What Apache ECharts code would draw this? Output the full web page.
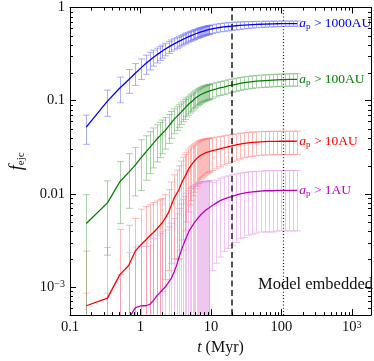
<!DOCTYPE html>
<html>
<head>
<meta charset="utf-8">
<script src="https://cdn.jsdelivr.net/npm/echarts@6/dist/echarts.min.js"></script>
<style>html,body{margin:0;padding:0;background:#fff}#c{width:374px;height:361px}</style>
</head>
<body>
<div id="c"></div>
<script>
// time samples (Myr)
const T = [0.17,0.34,0.51,0.68,0.85,1.02,1.19,1.36,1.53,1.70,1.87,2.04,
  2.25,2.5,2.75,3.0,3.25,3.5,3.75,4.0,4.25,4.5,4.75,5.0,5.25,5.5,5.75,6.0,6.25,6.5,6.75,7.0,7.25,7.5,7.75,8.0,8.25,8.5,8.75,9.0,9.25,9.5,
  10.2,11.7,13.3,15.2,17.4,19.9,22.7,26.0,29.7,33.9,38.8,44.3,50.6,57.9,66.1,75.6,86.4,98.7,112.8,129,147,168];

// a_p > 1000 AU
const blueMean = [0.052,0.099,0.137,0.168,0.198,0.225,0.25,0.272,0.292,0.31,0.326,0.341,
  0.358,0.376,0.392,0.407,0.42,0.433,0.444,0.455,0.465,0.474,0.483,0.491,0.499,0.506,0.513,0.52,0.526,0.532,0.537,0.542,0.547,0.552,0.556,0.56,0.564,0.568,0.571,0.575,0.578,0.581,
  0.588,0.6,0.61,0.618,0.625,0.631,0.637,0.642,0.647,0.651,0.655,0.658,0.661,0.663,0.665,0.667,0.669,0.67,0.671,0.672,0.672,0.673];
const blueErr = [0.018,0.031,0.042,0.048,0.052,0.056,0.058,0.058,0.057,0.056,0.055,0.055,
  0.055,0.055,0.056,0.056,0.056,0.057,0.057,0.057,0.058,0.058,0.058,0.059,0.059,0.059,0.06,0.06,0.06,0.06,0.061,0.061,0.061,0.061,0.061,0.062,0.062,0.062,0.062,0.062,0.062,0.062,
  0.062,0.063,0.063,0.063,0.063,0.063,0.061,0.059,0.057,0.055,0.053,0.051,0.05,0.049,0.048,0.047,0.046,0.045,0.045,0.044,0.044,0.044];

// a_p > 100 AU
const greenMean = [0.0048,0.0080,0.0135,0.0170,0.0205,0.0245,0.0280,0.0315,0.0350,0.0385,0.0415,0.0445,
  0.048,0.053,0.058,0.063,0.067,0.071,0.075,0.079,0.083,0.087,0.090,0.094,0.097,0.100,0.103,0.106,0.109,0.111,0.113,0.115,0.117,0.118,0.120,0.121,0.122,0.123,0.124,0.125,0.126,0.127,
  0.129,0.133,0.137,0.140,0.144,0.147,0.150,0.153,0.156,0.158,0.160,0.162,0.163,0.164,0.165,0.166,0.167,0.168,0.168,0.169,0.169,0.169];
const greenErr = [0.0050,0.0058,0.0087,0.0100,0.0110,0.0136,0.0140,0.0150,0.0160,0.0165,0.0170,0.0175,
  0.0178,0.0182,0.0185,0.0188,0.019,0.0193,0.0195,0.0197,0.02,0.02,0.0202,0.0205,0.0207,0.021,0.0212,0.0214,0.0216,0.0218,0.022,0.0222,0.0224,0.0225,0.0226,0.0227,0.0228,0.0229,0.023,0.023,0.0231,0.0231,
  0.0232,0.0233,0.0234,0.0235,0.0237,0.0239,0.024,0.0242,0.0244,0.0245,0.0247,0.0248,0.0249,0.025,0.0251,0.0252,0.0253,0.0254,0.0255,0.0255,0.0256,0.0256];

// a_p > 10 AU
const redMean = [6.3e-4,7.6e-4,1.36e-3,1.7e-3,2.45e-3,2.85e-3,3.2e-3,3.55e-3,3.85e-3,4.2e-3,4.55e-3,4.9e-3,
  5.5e-3,6.3e-3,7.6e-3,9.0e-3,0.0100,0.0110,0.0125,0.0140,0.0152,0.0165,0.0180,0.0193,0.0203,0.0213,0.0222,0.0231,0.0239,0.0246,0.0252,0.0257,0.0261,0.0265,0.0268,0.0271,0.0274,0.0277,0.0279,0.0281,0.0283,0.0285,
  0.0289,0.0296,0.0304,0.0312,0.0320,0.0328,0.0335,0.0342,0.0348,0.0353,0.0357,0.0360,0.0362,0.0364,0.0365,0.0366,0.0366,0.0367,0.0367,0.0367,0.0367,0.0368];
const redErr = [1.8e-3,1.9e-3,2.8e-3,2.9e-3,3.0e-3,4.0e-3,4.1e-3,4.1e-3,4.2e-3,4.2e-3,4.1e-3,4.0e-3,
  4.3e-3,4.8e-3,5.8e-3,7.0e-3,8.0e-3,9.0e-3,0.0100,0.0108,0.0112,0.0115,0.0116,0.0117,0.0118,0.0118,0.0118,0.0118,0.0118,0.0117,0.0117,0.0116,0.0116,0.0115,0.0115,0.0114,0.0114,0.0113,0.0113,0.0112,0.0112,0.0111,
  0.0111,0.0110,0.0109,0.0108,0.0107,0.0106,0.0105,0.0105,0.0104,0.0104,0.0104,0.0103,0.0103,0.0103,0.0103,0.0103,0.0103,0.0103,0.0103,0.0103,0.0103,0.0103];

// a_p > 1 AU
const magMean = [1.0e-4,1.2e-4,2.6e-4,4.6e-4,6.0e-4,6.3e-4,6.3e-4,6.5e-4,7.2e-4,8.0e-4,8.6e-4,9.3e-4,
  1.0e-3,1.12e-3,1.25e-3,1.45e-3,1.7e-3,2.05e-3,2.4e-3,2.75e-3,3.1e-3,3.45e-3,3.8e-3,4.1e-3,4.35e-3,4.6e-3,4.85e-3,5.05e-3,5.25e-3,5.45e-3,5.65e-3,5.85e-3,6.0e-3,6.15e-3,6.3e-3,6.45e-3,6.6e-3,6.7e-3,6.8e-3,6.9e-3,7.0e-3,7.1e-3,
  7.4e-3,7.9e-3,8.4e-3,8.8e-3,9.1e-3,9.4e-3,9.7e-3,0.0100,0.0102,0.0104,0.0105,0.0106,0.0107,0.0108,0.0108,0.0108,0.0109,0.0109,0.0109,0.0109,0.0109,0.0109];
const magErr = [7.6e-4,7.4e-4,1.1e-3,1.9e-3,2.1e-3,2.1e-3,2.1e-3,2.1e-3,2.6e-3,2.8e-3,2.9e-3,3.0e-3,
  3.1e-3,3.3e-3,3.6e-3,4.0e-3,4.4e-3,4.9e-3,5.4e-3,5.9e-3,6.3e-3,6.7e-3,7.0e-3,7.3e-3,7.4e-3,7.4e-3,7.5e-3,7.5e-3,7.5e-3,7.5e-3,7.5e-3,7.4e-3,7.4e-3,7.3e-3,7.2e-3,7.1e-3,7.0e-3,7.0e-3,6.9e-3,6.8e-3,6.8e-3,6.7e-3,
  5.9e-3,6.1e-3,6.3e-3,6.4e-3,6.5e-3,6.6e-3,6.7e-3,6.7e-3,6.8e-3,6.8e-3,6.8e-3,6.8e-3,6.8e-3,6.9e-3,6.9e-3,6.9e-3,6.9e-3,6.9e-3,6.9e-3,6.9e-3,6.9e-3,6.9e-3];

// ticks
const xMajor = [0.1, 1, 10, 100, 1000];
const xTickText = ['0.1', '1', '10', '100', '10{sup|3}'];
const yMajor = [0.001, 0.01, 0.1, 1];
const yTickText = ['10{sup|\u22123}', '0.01', '0.1', '1'];
const vLines = [20, 108];
const seriesLabels = ['1000AU', '100AU', '10AU', '1AU'];

const X_MIN = 0.1, X_MAX = 1870, Y_MIN = 5e-4, Y_MAX = 1;
const FONT = 'Liberation Serif';

const xMinor = [], yMinor = [];
for (let k = -1; k <= 3; k++) for (let m = 2; m <= 9; m++) { const v = m * Math.pow(10, k); if (v < X_MAX) xMinor.push(v); }
for (let k = -4; k <= -1; k++) for (let m = 2; m <= 9; m++) { const v = m * Math.pow(10, k); if (v > Y_MIN && v < Y_MAX) yMinor.push(v); }

function fmt(list, texts) {
  return function (v) {
    for (let i = 0; i < list.length; i++) if (Math.abs(Math.log10(v / list[i])) < 1e-6) return texts[i];
    return '';
  };
}

const richTick = {
  sup: { fontSize: 10, fontFamily: FONT, lineHeight: 9, verticalAlign: 'top', color: '#111' }
};

function errSeries(mean, err, color) {
  return {
    type: 'custom', xAxisIndex: 0, yAxisIndex: 0, clip: true, silent: true, z: 2,
    encode: { x: 0, y: [1, 2] },
    data: T.map((t, i) => [t, mean[i] - err[i], mean[i] + err[i]]),
    renderItem(params, api) {
      const cs = params.coordSys;
      const x = api.value(0), lo = api.value(1), hi = api.value(2);
      const pHi = api.coord([x, hi]);
      const xp = Math.round(pHi[0]) + 0.5;
      const yLo = lo > 0 ? api.coord([x, lo])[1] : cs.y + cs.height + 30;
      const w = 3.5;
      const st = { stroke: color, lineWidth: 1 };
      const ch = [
        { type: 'line', shape: { x1: xp, y1: pHi[1], x2: xp, y2: yLo }, style: st },
        { type: 'line', shape: { x1: xp - w, y1: pHi[1], x2: xp + w, y2: pHi[1] }, style: st }
      ];
      if (lo > 0) ch.push({ type: 'line', shape: { x1: xp - w, y1: yLo, x2: xp + w, y2: yLo }, style: st });
      return { type: 'group', children: ch };
    }
  };
}

function lineSeries(mean, color, label, extra) {
  const s = {
    type: 'line', xAxisIndex: 0, yAxisIndex: 0, z: 3, silent: true,
    data: T.map((t, i) => [t, mean[i]]),
    showSymbol: false, symbol: 'none',
    lineStyle: { color: color, width: 1.3 },
    itemStyle: { color: color },
    endLabel: {
      show: true, distance: 2, color: color,
      formatter: () => '{it|a}{sub|p} > ' + label,
      fontFamily: FONT, fontSize: 13.5,
      rich: {
        it: { fontStyle: 'italic', fontFamily: FONT, fontSize: 13.5, color: color, lineHeight: 16 },
        sub: { fontFamily: FONT, fontSize: 9, color: color, lineHeight: 8, verticalAlign: 'bottom' }
      }
    }
  };
  return Object.assign(s, extra || {});
}

function minorX() {
  return {
    type: 'custom', xAxisIndex: 0, yAxisIndex: 0, silent: true, z: 5,
    data: xMinor.map(v => [v, 0.01]),
    renderItem(params, api) {
      const cs = params.coordSys;
      const px = Math.round(api.coord([api.value(0), 0.01])[0]) + 0.5;
      const st = { stroke: '#000', lineWidth: 1 };
      return { type: 'group', children: [
        { type: 'line', shape: { x1: px, y1: cs.y + cs.height, x2: px, y2: cs.y + cs.height - 3 }, style: st },
        { type: 'line', shape: { x1: px, y1: cs.y, x2: px, y2: cs.y + 3 }, style: st }
      ] };
    }
  };
}
function minorY() {
  return {
    type: 'custom', xAxisIndex: 0, yAxisIndex: 0, silent: true, z: 5,
    data: yMinor.map(v => [1, v]),
    renderItem(params, api) {
      const cs = params.coordSys;
      const py = Math.round(api.coord([1, api.value(1)])[1]) + 0.5;
      const st = { stroke: '#000', lineWidth: 1 };
      return { type: 'group', children: [
        { type: 'line', shape: { x1: cs.x, y1: py, x2: cs.x + 3, y2: py }, style: st },
        { type: 'line', shape: { x1: cs.x + cs.width, y1: py, x2: cs.x + cs.width - 3, y2: py }, style: st }
      ] };
    }
  };
}

const axisCommon = {
  type: 'log', logBase: 10,
  axisLine: { show: true, lineStyle: { color: '#000', width: 1 } },
  axisTick: { show: true, inside: true, length: 6, lineStyle: { color: '#000', width: 1 } },
  splitLine: { show: false },
  minorTick: { show: false }
};

const chart = echarts.init(document.getElementById('c'), null, { renderer: 'canvas' });
chart.setOption({
  animation: false,
  backgroundColor: '#fff',
  grid: { left: 58, right: 2, top: 6, bottom: 41.5 },
  xAxis: [
    Object.assign({}, axisCommon, {
      position: 'bottom', min: X_MIN, max: X_MAX,
      axisLabel: { show: true, margin: 5, color: '#111', fontFamily: FONT, fontSize: 14.5,
        formatter: fmt(xMajor, xTickText), rich: richTick },
      name: '{it|t} (Myr)', nameLocation: 'middle', nameGap: 23,
      nameTextStyle: { fontFamily: FONT, fontSize: 16, color: '#111',
        rich: { it: { fontStyle: 'italic', fontFamily: FONT, fontSize: 16, color: '#111' } } }
    }),
    Object.assign({}, axisCommon, {
      position: 'top', min: X_MIN, max: X_MAX, axisLabel: { show: false }
    })
  ],
  yAxis: [
    Object.assign({}, axisCommon, {
      position: 'left', min: Y_MIN, max: Y_MAX,
      axisLabel: { show: true, margin: 5, color: '#111', fontFamily: FONT, fontSize: 14.5,
        formatter: fmt(yMajor, yTickText), rich: richTick },
      name: '{it|f}{sub|ejc}', nameLocation: 'middle', nameGap: 43, nameRotate: 90,
      nameTextStyle: { fontFamily: FONT, fontSize: 17, color: '#111',
        rich: {
          it: { fontStyle: 'italic', fontFamily: FONT, fontSize: 18, color: '#111', lineHeight: 20 },
          sub: { fontFamily: FONT, fontSize: 11, color: '#111', lineHeight: 10, verticalAlign: 'bottom' }
        } }
    }),
    Object.assign({}, axisCommon, {
      position: 'right', min: Y_MIN, max: Y_MAX, axisLabel: { show: false }
    })
  ],
  series: [
    errSeries(magMean, magErr, 'rgba(228,150,228,0.55)'),
    errSeries(redMean, redErr, 'rgba(255,130,130,0.55)'),
    errSeries(greenMean, greenErr, 'rgba(90,170,90,0.5)'),
    errSeries(blueMean, blueErr, 'rgba(110,110,255,0.55)'),
    lineSeries(magMean, '#bf00bf', seriesLabels[3]),
    lineSeries(redMean, '#ff0000', seriesLabels[2]),
    lineSeries(greenMean, '#008000', seriesLabels[1]),
    lineSeries(blueMean, '#0000ff', seriesLabels[0], {
      markLine: {
        silent: true, symbol: ['none', 'none'], label: { show: false }, animation: false,
        data: [
          { xAxis: vLines[0], lineStyle: { color: '#222', width: 1.5, type: [6, 3.5] } },
          { xAxis: vLines[1], lineStyle: { color: '#222', width: 1.2, type: [1, 2.2] } }
        ]
      }
    }),
    minorX(),
    minorY()
  ],
  graphic: [
    { type: 'text', right: 1, top: 276, z: 10,
      style: { text: 'Model embedded', fontFamily: FONT, fontSize: 16.5, fill: '#111' } }
  ]
});
</script>
</body>
</html>
